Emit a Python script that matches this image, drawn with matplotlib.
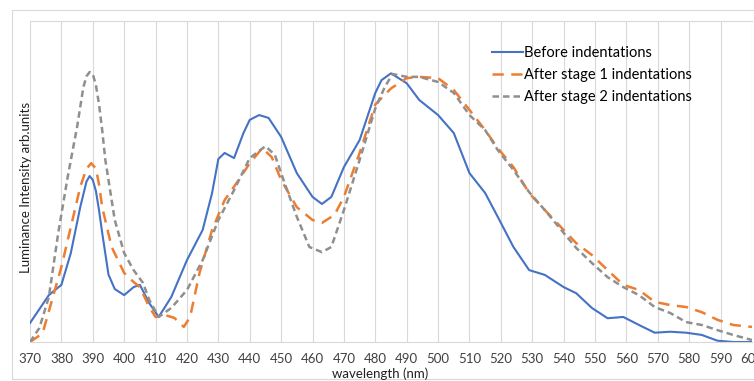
import matplotlib
matplotlib.use('Agg')
import matplotlib.pyplot as plt
from matplotlib.patches import Rectangle

plt.rcParams['font.family'] = ['Lato', 'DejaVu Sans']

# intensity values (arbitrary units, 0 = baseline)
before_nm = [370, 376, 380, 383, 386, 388, 389, 390, 391, 392, 393, 395, 397, 400, 403, 405,
             408, 411, 415, 420, 425, 428, 430, 432, 435, 438, 440, 443, 446, 450, 455, 460,
             463, 466, 470, 475, 480, 482, 485, 490, 494, 500, 505, 510, 515, 519, 524, 529,
             534, 540, 544, 549, 554, 559, 564, 569, 574, 579, 584, 589, 594, 600]
before_val = [0.059, 0.146, 0.178, 0.277, 0.420, 0.500, 0.517, 0.505, 0.470, 0.410, 0.340,
              0.210, 0.165, 0.146, 0.171, 0.178, 0.121, 0.078, 0.140, 0.255, 0.349, 0.464,
              0.570, 0.589, 0.573, 0.651, 0.692, 0.707, 0.698, 0.639, 0.526, 0.452, 0.430,
              0.452, 0.545, 0.629, 0.776, 0.816, 0.837, 0.806, 0.754, 0.707, 0.651, 0.526,
              0.464, 0.390, 0.296, 0.224, 0.209, 0.171, 0.152, 0.106, 0.074, 0.078, 0.053,
              0.029, 0.032, 0.029, 0.022, 0.004, 0.0, 0.0]

stage1_nm = [370, 374, 377, 380, 383, 386, 388, 389.5, 391, 392, 393, 396, 400, 403, 405,
             408, 410, 413, 416, 419, 421, 424, 428, 432, 436, 440, 444, 447, 450, 455, 460,
             463, 467, 470, 475, 480, 485, 490, 494, 500, 505, 510, 515, 519, 524, 529, 534,
             540, 544, 549, 554, 559, 564, 569, 574, 579, 584, 589, 594, 600]
stage1_val = [0.0, 0.027, 0.130, 0.234, 0.358, 0.483, 0.540, 0.557, 0.540, 0.490, 0.420,
              0.296, 0.215, 0.187, 0.171, 0.109, 0.078, 0.084, 0.075, 0.047, 0.078, 0.215,
              0.349, 0.442, 0.498, 0.557, 0.604, 0.576, 0.505, 0.420, 0.380, 0.371, 0.396,
              0.452, 0.589, 0.740, 0.790, 0.822, 0.826, 0.822, 0.785, 0.723, 0.660, 0.604,
              0.545, 0.464, 0.411, 0.349, 0.308, 0.271, 0.224, 0.178, 0.162, 0.125, 0.115,
              0.109, 0.093, 0.069, 0.053, 0.047]

stage2_nm = [370, 373, 376, 379, 382, 385, 387, 388, 389, 390, 391, 392, 393, 394, 397, 400,
             403, 406, 408, 411, 415, 420, 425, 430, 435, 440, 445, 448, 451, 455, 459, 463,
             466, 470, 475, 480, 483, 485.5, 490, 494, 500, 505, 510, 515, 519, 524, 529, 534,
             540, 544, 549, 554, 559, 564, 569, 574, 579, 584, 589, 594, 600]
stage2_val = [0.0, 0.044, 0.140, 0.340, 0.514, 0.670, 0.794, 0.828, 0.841, 0.835, 0.800,
              0.740, 0.660, 0.567, 0.380, 0.277, 0.224, 0.184, 0.131, 0.078, 0.106, 0.162,
              0.255, 0.380, 0.473, 0.573, 0.610, 0.583, 0.498, 0.390, 0.296, 0.280, 0.296,
              0.411, 0.567, 0.728, 0.794, 0.835, 0.826, 0.826, 0.810, 0.776, 0.707, 0.660,
              0.598, 0.536, 0.467, 0.411, 0.340, 0.293, 0.246, 0.202, 0.171, 0.146, 0.109,
              0.090, 0.062, 0.053, 0.037, 0.022, 0.006]

labels = ["Before indentations", "After stage 1 indentations", "After stage 2 indentations"]
xticks = list(range(370, 601, 10))

fig = plt.figure(figsize=(7.54, 3.81), dpi=100)
ax = fig.add_axes([30 / 754, 1 - 342 / 381, 722 / 754, 321 / 381])

# outer chart border like the Excel chart area
fig.patches.append(Rectangle((12 / 754, 1 - 379 / 381), 760 / 754, 369 / 381,
                             transform=fig.transFigure, fill=False,
                             edgecolor='#d9d9d9', lw=0.8))

ax.plot(before_nm, before_val, color='#4472C4', lw=1.5, label=labels[0])
ax.plot(stage1_nm, stage1_val, color='#ED7D31', lw=1.8, dashes=(4.5, 3), label=labels[1])
ax.plot(stage2_nm, stage2_val, color='#8f8f8f', lw=1.8, dashes=(2.6, 1.6), label=labels[2])

ax.set_xlim(370, 600)
ax.set_ylim(0, 1)
ax.set_xticks(xticks)
ax.set_yticks([])
ax.grid(axis='x', color='#d9d9d9', lw=0.8)
ax.set_axisbelow(True)
for side in ['left', 'right']:
    ax.spines[side].set_visible(False)
ax.spines['top'].set_color('#d9d9d9')
ax.spines['bottom'].set_color('#d9d9d9')
ax.tick_params(axis='x', length=0, labelsize=9.5, labelcolor='#404040', pad=8)

fig.text(26 / 754, 1 - 187 / 381, "Luminance Intensity arb.units", fontsize=9.5,
         color='#202020', rotation=90, ha='center', va='center')
fig.text(380 / 754, 1 - 374 / 381, "wavelength (nm)", fontsize=9.5, color='#202020',
         ha='center', va='center')

ax.legend(loc='upper left', bbox_to_anchor=(485 / 754, 1 - 39 / 381),
          bbox_transform=fig.transFigure, frameon=False, fontsize=10.5,
          handlelength=2.1, handletextpad=0.1, labelspacing=0.55, borderpad=0)

fig.savefig("out.png", dpi=100)
